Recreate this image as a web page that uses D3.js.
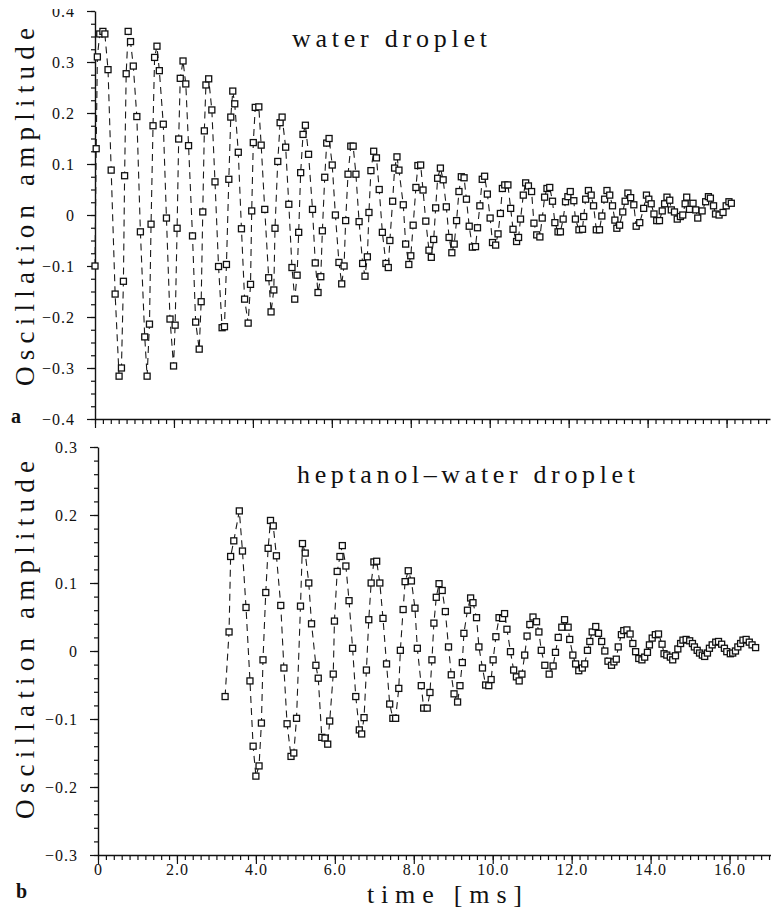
<!DOCTYPE html>
<html>
<head>
<meta charset="utf-8">
<script src="https://cdnjs.cloudflare.com/ajax/libs/d3/7.8.5/d3.min.js"></script>
<style>
  body { margin: 0; background: #fff; }
  svg { display: block; }
  text { font-family: "Liberation Serif", "DejaVu Serif", "Times New Roman", serif; fill: #111; }
</style>
</head>
<body>
<div id="container"></div>
<script>
// panel a : water droplet (time in ms, amplitude)
var timeA = [0.00,0.03,0.06,0.12,0.20,0.25,0.33,0.41,0.51,0.61,0.67,0.72,0.75,0.79,0.84,0.90,0.97,1.06,1.15,1.26,
  1.32,1.38,1.42,1.47,1.51,1.57,1.63,1.73,1.81,1.90,1.99,2.03,2.08,2.12,2.16,2.23,2.30,2.37,2.47,2.55,
  2.64,2.69,2.73,2.77,2.81,2.88,2.96,3.04,3.13,3.22,3.28,3.33,3.39,3.44,3.49,3.54,3.63,3.71,3.79,3.88,
  3.94,3.97,4.01,4.06,4.15,4.21,4.30,4.40,4.46,4.53,4.56,4.63,4.69,4.74,4.83,4.91,4.99,5.06,5.12,5.16,
  5.21,5.27,5.33,5.41,5.51,5.58,5.65,5.72,5.76,5.82,5.87,5.93,6.01,6.09,6.18,6.25,6.31,6.35,6.41,6.48,
  6.54,6.61,6.69,6.78,6.84,6.90,6.94,6.99,7.06,7.13,7.20,7.28,7.37,7.43,7.47,7.54,7.59,7.65,7.70,7.81,
  7.87,7.95,8.00,8.06,8.13,8.18,8.25,8.31,8.38,8.46,8.52,8.58,8.63,8.68,8.75,8.82,8.90,8.97,9.04,9.10,
  9.16,9.22,9.28,9.35,9.41,9.48,9.56,9.64,9.69,9.75,9.81,9.87,9.94,10.01,10.07,10.15,10.21,10.27,10.32,10.38,
  10.46,10.53,10.59,10.68,10.73,10.78,10.85,10.91,10.98,11.06,11.12,11.19,11.27,11.33,11.39,11.45,11.52,11.59,11.65,11.73,
  11.79,11.86,11.92,11.98,12.04,12.13,12.17,12.26,12.35,12.38,12.43,12.50,12.57,12.63,12.70,12.78,12.84,12.91,12.97,13.04,
  13.11,13.17,13.22,13.29,13.37,13.43,13.50,13.57,13.65,13.71,13.80,13.90,13.97,14.03,14.09,14.16,14.23,14.30,14.37,14.43,
  14.49,14.56,14.60,14.68,14.75,14.83,14.89,14.95,14.99,15.06,15.15,15.22,15.27,15.38,15.47,15.54,15.59,15.67,15.72,15.81,
  15.91,15.99,16.06,16.12];
var ampA = [-0.100,0.130,0.310,0.355,0.360,0.355,0.285,0.088,-0.155,-0.316,-0.300,-0.130,0.077,0.277,0.360,0.340,0.292,0.193,-0.033,-0.239,
  -0.316,-0.214,-0.018,0.175,0.309,0.331,0.283,0.178,-0.006,-0.204,-0.296,-0.216,-0.026,0.149,0.268,0.302,0.257,0.136,-0.041,-0.210,
  -0.263,-0.170,0.006,0.165,0.255,0.267,0.206,0.065,-0.101,-0.221,-0.219,-0.097,0.070,0.192,0.243,0.218,0.123,-0.027,-0.165,-0.212,
  -0.136,0.008,0.142,0.211,0.212,0.137,0.011,-0.123,-0.190,-0.147,-0.026,0.105,0.181,0.192,0.133,0.021,-0.103,-0.165,-0.118,-0.034,
  0.083,0.158,0.176,0.119,0.011,-0.094,-0.152,-0.121,-0.031,0.074,0.141,0.150,0.098,0.000,-0.093,-0.135,-0.100,-0.011,0.080,0.135,
  0.135,0.080,-0.013,-0.095,-0.120,-0.082,0.005,0.087,0.125,0.112,0.050,-0.034,-0.095,-0.103,-0.050,0.027,0.092,0.114,0.088,0.020,
  -0.057,-0.097,-0.080,-0.020,0.054,0.097,0.098,0.049,-0.012,-0.069,-0.083,-0.048,0.014,0.072,0.092,0.069,0.016,-0.044,-0.074,-0.057,
  -0.011,0.046,0.075,0.073,0.031,-0.022,-0.063,-0.062,-0.025,0.018,0.070,0.076,0.041,-0.006,-0.054,-0.059,-0.037,0.003,0.052,0.059,
  0.059,0.013,-0.028,-0.052,-0.044,-0.008,0.039,0.063,0.057,0.046,-0.016,-0.039,-0.043,-0.006,0.035,0.052,0.054,0.027,-0.015,-0.033,
  -0.033,-0.008,0.026,0.036,0.046,0.028,-0.008,-0.029,-0.028,-0.003,0.031,0.048,0.039,0.018,-0.029,-0.029,-0.002,0.031,0.048,0.039,
  0.018,-0.010,-0.026,-0.020,0.006,0.027,0.043,0.034,0.020,-0.022,-0.015,0.013,0.039,0.031,0.022,0.002,-0.011,-0.011,0.008,0.022,
  0.035,0.029,0.010,0.006,-0.008,-0.003,0.000,0.022,0.035,0.011,0.023,0.010,-0.006,0.008,0.026,0.036,0.033,0.018,0.002,0.000,
  0.005,0.018,0.026,0.023];

// panel b : heptanol-water droplet
var timeB = [3.22,3.32,3.36,3.44,3.58,3.66,3.75,3.85,3.93,4.00,4.08,4.14,4.18,4.25,4.31,4.37,4.44,4.52,4.63,4.71,
  4.79,4.89,4.96,5.03,5.13,5.18,5.25,5.34,5.41,5.52,5.58,5.67,5.75,5.82,5.87,5.96,5.99,6.06,6.13,6.19,
  6.28,6.36,6.45,6.53,6.62,6.68,6.74,6.80,6.86,6.92,6.99,7.06,7.14,7.22,7.31,7.39,7.47,7.54,7.62,7.66,
  7.73,7.78,7.86,7.94,8.03,8.09,8.19,8.25,8.34,8.41,8.46,8.51,8.57,8.64,8.72,8.80,8.88,8.95,9.02,9.11,
  9.17,9.23,9.27,9.36,9.44,9.50,9.59,9.65,9.74,9.82,9.90,9.96,10.01,10.08,10.16,10.25,10.30,10.36,10.45,10.53,
  10.60,10.67,10.74,10.81,10.87,10.94,11.02,11.11,11.17,11.23,11.32,11.43,11.53,11.59,11.66,11.75,11.82,11.91,11.95,12.03,
  12.10,12.18,12.27,12.33,12.40,12.46,12.52,12.61,12.68,12.76,12.84,12.92,13.01,13.07,13.13,13.18,13.26,13.32,13.40,13.48,
  13.55,13.62,13.70,13.78,13.85,13.92,13.97,14.04,14.12,14.20,14.29,14.34,14.41,14.50,14.56,14.63,14.69,14.76,14.82,14.90,
  14.99,15.06,15.11,15.18,15.24,15.31,15.37,15.44,15.49,15.56,15.65,15.72,15.80,15.87,15.93,16.02,16.08,16.15,16.21,16.28,
  16.34,16.42,16.50,16.57,16.66];
var ampB = [-0.067,0.028,0.139,0.162,0.206,0.147,0.064,-0.044,-0.140,-0.184,-0.169,-0.106,-0.013,0.086,0.151,0.192,0.184,0.140,0.067,-0.025,
  -0.107,-0.155,-0.150,-0.099,0.066,0.158,0.144,0.100,0.040,-0.021,-0.040,-0.127,-0.128,-0.137,-0.103,-0.034,0.044,0.117,0.139,0.155,
  0.125,0.074,0.004,-0.067,-0.116,-0.122,-0.098,-0.028,0.046,0.100,0.131,0.132,0.100,0.048,-0.019,-0.078,-0.099,-0.099,-0.055,0.001,
  0.061,0.102,0.118,0.103,0.063,0.004,-0.051,-0.084,-0.084,-0.061,-0.013,0.041,0.079,0.099,0.089,0.058,0.006,-0.035,-0.063,-0.075,
  -0.051,-0.017,0.026,0.060,0.078,0.071,0.049,0.006,-0.025,-0.050,-0.051,-0.042,-0.013,0.021,0.049,0.048,0.055,0.032,-0.001,-0.028,
  -0.038,-0.044,-0.034,-0.006,0.022,0.039,0.050,0.043,0.028,0.001,-0.021,-0.034,-0.022,-0.002,0.020,0.035,0.046,0.035,0.017,-0.006,
  -0.019,-0.029,-0.025,-0.019,0.001,0.014,0.028,0.036,0.026,0.014,0.000,-0.015,-0.021,-0.016,-0.012,0.006,0.024,0.030,0.031,0.025,
  0.011,-0.001,-0.011,-0.013,-0.009,-0.002,0.009,0.019,0.024,0.025,0.010,-0.004,-0.006,-0.009,-0.013,-0.007,0.003,0.011,0.016,0.017,
  0.015,0.011,0.006,0.001,-0.003,-0.006,-0.008,-0.003,0.004,0.009,0.013,0.014,0.010,0.004,-0.001,-0.004,-0.003,0.000,0.006,0.011,
  0.016,0.017,0.013,0.009,0.005];

// ticks
var yLabelsA = [-0.4,-0.3,-0.2,-0.1,0,0.1,0.2,0.3,0.4];
var yLabelsB = [-0.3,-0.2,-0.1,0,0.1,0.2,0.3];
var xLabels = [0,2,4,6,8,10,12,14,16];

var serif = "'Liberation Serif', 'DejaVu Serif', serif";
var w = 771, h = 908;

var svg = d3.select("div#container")
  .append("svg")
  .attr("width", w)
  .attr("height", h);

var fmtY = function(d) { return Math.abs(d) < 1e-9 ? "0" : d3.format(".1f")(d); };
var fmtX = function(d) { return d === 0 ? "0" : d3.format(".1f")(d); };

// one panel = axes + dashed trace + square markers
function drawPanel(opt) {
  var x = d3.scaleLinear().domain(opt.xDomain).range(opt.xRange);
  var y = d3.scaleLinear().domain(opt.yDomain).range(opt.yRange);
  var g = svg.append("g");

  // minor ticks first
  g.append("g")
    .attr("transform", "translate(" + opt.xRange[0] + ",0)")
    .call(d3.axisLeft(y).tickValues(d3.range(opt.yDomain[0], opt.yDomain[1] + 1e-6, opt.yMinor))
      .tickSize(4).tickSizeOuter(0).tickFormat(""))
    .call(function(s) { s.select(".domain").remove(); });
  g.append("g")
    .attr("transform", "translate(0," + opt.yRange[0] + ")")
    .call(d3.axisBottom(x).tickValues(d3.range(0, opt.xDomain[1], 0.2))
      .tickSize(5).tickSizeOuter(0).tickFormat(""))
    .call(function(s) { s.select(".domain").remove(); });

  // major ticks + labels
  g.append("g")
    .attr("transform", "translate(" + opt.xRange[0] + ",0)")
    .call(d3.axisLeft(y).tickValues(opt.yLabels).tickSize(8).tickSizeOuter(0)
      .tickPadding(12).tickFormat(fmtY));
  g.append("g")
    .attr("transform", "translate(0," + opt.yRange[0] + ")")
    .call(d3.axisBottom(x).tickValues(xLabels).tickSize(9).tickSizeOuter(0)
      .tickPadding(0).tickFormat(opt.xText ? fmtX : ""));

  g.selectAll(".tick line").attr("stroke", "#111").attr("stroke-width", 1.2);
  g.selectAll(".domain").attr("stroke", "#111").attr("stroke-width", 1.4);
  g.selectAll(".tick text")
    .attr("font-family", serif)
    .attr("font-size", 16)
    .attr("letter-spacing", 1)
    .attr("fill", "#111");

  var line = d3.line()
    .x(function(d) { return x(d.t); })
    .y(function(d) { return y(d.v); });

  var pts = opt.t.map(function(t, i) { return { t: t, v: opt.v[i] }; });

  g.append("path")
    .datum(pts)
    .attr("fill", "none")
    .attr("stroke", "#1a1a1a")
    .attr("stroke-width", 1.1)
    .attr("stroke-dasharray", "7,5")
    .attr("d", line);

  g.append("g")
    .selectAll("rect")
    .data(pts)
    .enter().append("rect")
    .attr("x", function(d) { return x(d.t) - 3; })
    .attr("y", function(d) { return y(d.v) - 3; })
    .attr("width", 6)
    .attr("height", 6)
    .attr("fill", "#fff")
    .attr("stroke", "#111")
    .attr("stroke-width", 1.3);

  // panel title
  g.append("text")
    .attr("x", opt.titleX)
    .attr("y", opt.titleY)
    .attr("font-family", serif)
    .attr("font-size", 26)
    .attr("textLength", opt.titleLen)
    .attr("lengthAdjust", "spacing")
    .text(opt.title);

  // y axis title
  g.append("text")
    .attr("transform", "translate(" + 34 + "," + opt.yTitleC + ") rotate(-90)")
    .attr("text-anchor", "middle")
    .attr("font-family", serif)
    .attr("font-size", 27)
    .attr("textLength", 358)
    .attr("lengthAdjust", "spacing")
    .text("Oscillation amplitude");

  // panel letter
  g.append("text")
    .attr("x", opt.letterX)
    .attr("y", opt.letterY)
    .attr("font-family", serif)
    .attr("font-size", 20)
    .attr("font-weight", "bold")
    .text(opt.letter);
}

drawPanel({
  t: timeA, v: ampA,
  xDomain: [0, 17.1], xRange: [95, 770],
  yDomain: [-0.4, 0.4], yRange: [419, 11],
  yMinor: 0.025, yLabels: yLabelsA, xText: false,
  title: "water droplet", titleX: 292, titleY: 47, titleLen: 195,
  yTitleC: 207, letter: "a", letterX: 11, letterY: 423
});

drawPanel({
  t: timeB, v: ampB,
  xDomain: [0, 17.05], xRange: [98, 771],
  yDomain: [-0.3, 0.3], yRange: [855, 447],
  yMinor: 0.02, yLabels: yLabelsB, xText: true,
  title: "heptanol\u2013water droplet", titleX: 297, titleY: 483, titleLen: 338,
  yTitleC: 640, letter: "b", letterX: 16, letterY: 898
});

// x axis title
svg.append("text")
  .attr("x", 367)
  .attr("y", 903)
  .attr("font-family", serif)
  .attr("font-size", 26)
  .attr("textLength", 155)
  .attr("lengthAdjust", "spacing")
  .text("time [ms]");

// the scan is cropped just above the 0.4 label
svg.append("rect")
  .attr("x", 0).attr("y", 0)
  .attr("width", 90).attr("height", 9)
  .attr("fill", "#fff");
</script>
</body>
</html>
